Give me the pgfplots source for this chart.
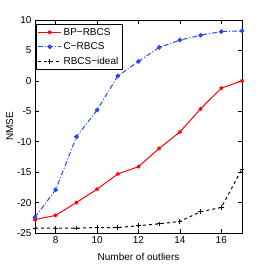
\documentclass[border=0pt]{standalone}
\usepackage{pgfplots}
\pgfplotsset{compat=1.18}
\usepackage{fontspec}
\setmainfont{Liberation Sans}
\begin{document}
\begin{tikzpicture}
\begin{axis}[
  scale only axis, width=207pt, height=213pt,
  xmin=7, xmax=17, ymin=-25, ymax=10,
  xtick={8,10,12,14,16}, ytick={-25,-20,-15,-10,-5,0,5,10},
  tick align=inside, tick pos=both,
  major tick length=4pt,
  axis line style={line width=0.8pt},
  every tick/.style={black, line width=0.6pt},
  /pgf/number format/assume math mode=true,
  tick label style={font=\fontsize{10}{11}\selectfont},
  label style={font=\fontsize{10}{11}\selectfont},
  xlabel={Number of outliers}, ylabel={NMSE},
  xlabel style={yshift=-3pt}, ylabel style={yshift=-3pt},
  legend style={at={(0.005,0.98)}, anchor=north west, draw=black, line width=0.6pt,
    font=\fontsize{10}{11}\selectfont, inner sep=1.5pt, row sep=2pt,
    legend cell align=left},
  legend image code/.code={\draw[mark repeat=2,mark phase=2,#1] plot coordinates {(0cm,0cm) (0.4cm,0cm) (0.8cm,0cm)};},
  legend image post style={line width=1pt},
]
\addplot[red, line width=1pt, mark=asterisk, mark size=2pt, mark options={solid}] coordinates {
(7,-22.8) (8,-22.1) (9,-20.0) (10,-17.8) (11,-15.3) (12,-14.1) (13,-11.1) (14,-8.4) (15,-4.6) (16,-1.2) (17,0.0)};
\addlegendentry{BP−RBCS}
\addplot[color={rgb,255:red,40;green,70;blue,255}, line width=1pt, dash pattern=on 5pt off 2pt on 1pt off 2pt, mark=*, mark size=1.8pt, mark options={solid}] coordinates {
(7,-22.4) (8,-17.9) (9,-9.2) (10,-4.8) (11,0.8) (12,3.2) (13,5.5) (14,6.7) (15,7.5) (16,8.1) (17,8.2)};
\addlegendentry{C−RBCS}
\addplot[black, line width=1pt, dashed, mark=+, mark size=2.2pt, mark options={solid}] coordinates {
(7,-24.2) (8,-24.2) (9,-24.2) (10,-24.1) (11,-24.1) (12,-23.8) (13,-23.5) (14,-23.1) (15,-21.5) (16,-20.8) (17,-14.5)};
\addlegendentry{RBCS−ideal}
\end{axis}
\pgfresetboundingbox
\path[use as bounding box] ([shift={(-35pt,-34pt)}]current axis.south west) rectangle ([shift={(25pt,20pt)}]current axis.north east);
\end{tikzpicture}
\end{document}
